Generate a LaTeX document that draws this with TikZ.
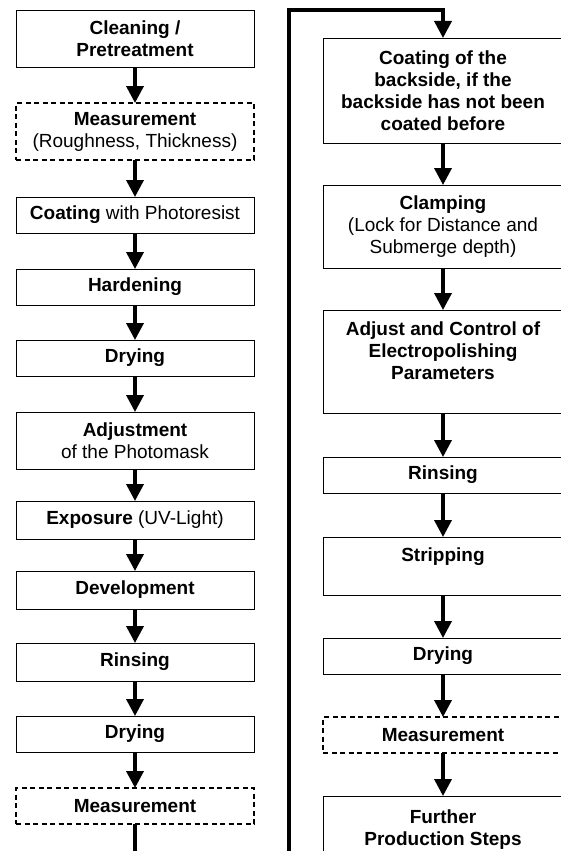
\documentclass[tikz,border=0pt]{standalone}
\usepackage{fontspec}
\setmainfont{Liberation Sans}
\usetikzlibrary{arrows.meta, positioning}
\tikzstyle{stepbox} = [%
  rectangle,
  draw=black,
  line width=0.9pt,
  minimum width=238pt,
  minimum height=36pt,
  align=center,
  fill=white,
  text centered,
  inner sep=3pt,
  outer sep=0pt,
  font=\fontsize{19}{22}\selectfont
]
\tikzstyle{checkbox} = [stepbox, dashed, dash pattern=on 5pt off 3.5pt, line width=1.2pt]
\tikzstyle{rnode} = [stepbox, minimum width=240pt]

\begin{document}
\begin{tikzpicture}[%
  >={Triangle[length=17pt,width=17pt]},
  flow/.style={->,line width=3.6pt},
  every node/.style={text=black}
]
  \useasboundingbox (0pt,0pt) rectangle (561pt,-851pt);

  % Left column
  \node[stepbox,minimum height=57pt,anchor=north] (L1) at (135pt,-10pt) {\textbf{Cleaning /}\\\textbf{Pretreatment}};
  \node[checkbox,minimum height=57pt,below=36pt of L1] (L2) {\textbf{Measurement}\\(Roughness, Thickness)};
  \node[stepbox,below=37pt of L2] (L3) {\textbf{Coating} with Photoresist};
  \node[stepbox,below=36pt of L3] (L4) {\textbf{Hardening}};
  \node[stepbox,below=35pt of L4] (L5) {\textbf{Drying}};
  \node[stepbox,minimum height=57pt,below=36pt of L5] (L6) {\textbf{Adjustment}\\of the Photomask};
  \node[stepbox,minimum height=38pt,below=32pt of L6] (L7) {\textbf{Exposure} (UV-Light)};
  \node[stepbox,minimum height=38pt,below=32pt of L7] (L8) {\textbf{Development}};
  \node[stepbox,minimum height=38pt,below=34pt of L8] (L9) {\textbf{Rinsing}};
  \node[stepbox,below=35pt of L9] (L10) {\textbf{Drying}};
  \node[checkbox,below=36pt of L10] (L11) {\textbf{Measurement}};

  % Right column
  \node[rnode,minimum height=105pt,anchor=north] (R1) at (443pt,-38pt) {\textbf{Coating of the}\\\textbf{backside, if the}\\\textbf{backside has not been}\\\textbf{coated before}};
  \node[rnode,minimum height=83pt,below=42pt of R1] (R2) {\textbf{Clamping}\\(Lock for Distance and\\Submerge depth)};
  \node[rnode,minimum height=103pt,below=42pt of R2] (R3) {\textbf{Adjust and Control of}\\\textbf{Electropolishing}\\\textbf{Parameters}\\\mbox{}};
  \node[rnode,below=44pt of R3] (R4) {\textbf{Rinsing}};
  \node[rnode,minimum height=58pt,below=44pt of R4] (R5) {\textbf{Stripping}\\\mbox{}};
  \node[rnode,below=43pt of R5] (R6) {\textbf{Drying}};
  \node[checkbox,minimum width=240pt,below=43pt of R6] (R7) {\textbf{Measurement}};
  \node[rnode,minimum height=68pt,below=43pt of R7] (R8) {\textbf{Further}\\\textbf{Production Steps}};

  % Step edges
  \draw[flow] (L1) -- (L2);
  \draw[flow] (L2) -- (L3);
  \draw[flow] (L3) -- (L4);
  \draw[flow] (L4) -- (L5);
  \draw[flow] (L5) -- (L6);
  \draw[flow] (L6) -- (L7);
  \draw[flow] (L7) -- (L8);
  \draw[flow] (L8) -- (L9);
  \draw[flow] (L9) -- (L10);
  \draw[flow] (L10) -- (L11);

  \draw[flow] (R1) -- (R2);
  \draw[flow] (R2) -- (R3);
  \draw[flow] (R3) -- (R4);
  \draw[flow] (R4) -- (R5);
  \draw[flow] (R5) -- (R6);
  \draw[flow] (R6) -- (R7);
  \draw[flow] (R7) -- (R8);

  % Column change
  \coordinate (B1) at (289pt,-900pt);
  \coordinate (T1) at (289pt,-10pt);
  \draw[flow] (L11.south) |- (B1) -- (T1) -| (R1.north);
\end{tikzpicture}
\end{document}
